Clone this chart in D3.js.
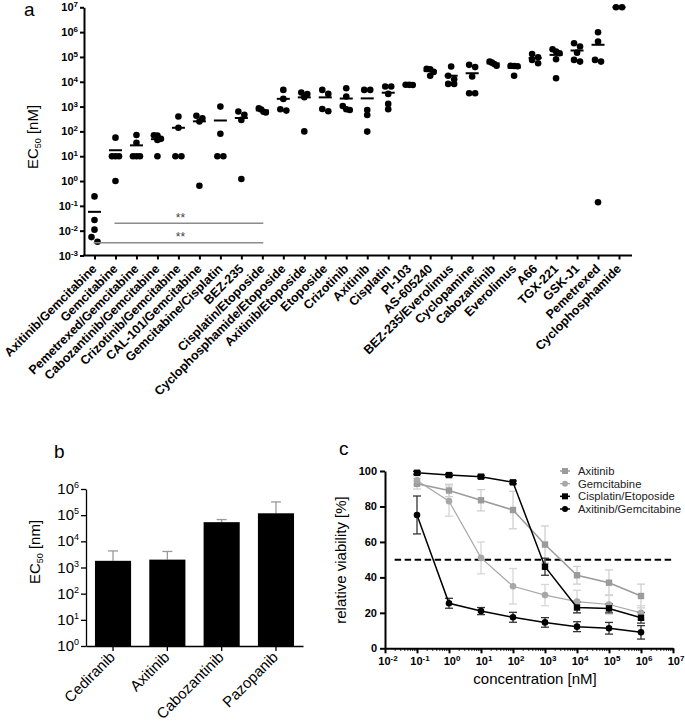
<!DOCTYPE html>
<html>
<head>
<meta charset="utf-8">
<script src="https://cdnjs.cloudflare.com/ajax/libs/d3/7.8.5/d3.min.js"></script>
<style>
body { margin: 0; background: #fff; }
svg { font-family: "Liberation Sans", Arial, sans-serif; }
</style>
</head>
<body>
<svg id="fig" width="685" height="723"></svg>
<script>
// ---------- panel a: EC50 [nM] per drug / combination, one dot per cell line
const drugsA = ["Axitinib/Gemcitabine", "Gemcitabine", "Pemetrexed/Gemcitabine", "Cabozantinib/Gemcitabine",
  "Crizotinib/Gemcitabine", "CAL-101/Gemcitabine", "Gemcitabine/Cisplatin", "BEZ-235", "Cisplatin/Etoposide",
  "Cyclophosphamide/Etoposide", "Axitinib/Etoposide", "Etoposide", "Crizotinib", "Axitinib", "Cisplatin",
  "PI-103", "AS-605240", "BEZ-235/Everolimus", "Cyclopamine", "Cabozantinib", "Everolimus", "A66",
  "TGX-221", "GSK-J1", "Pemetrexed", "Cyclophosphamide"];

const ec50A = [
  [0.24, 0.027, 0.011, 0.0055, 0.0036],
  [56, 10, 10, 10, 1],
  [72, 35, 10, 10, 10],
  [70, 68, 50, 45, 10],
  [400, 140, 10, 10],
  [425, 340, 250, 0.65],
  [1000, 80, 10, 10],
  [630, 465, 290, 1.2],
  [850, 760, 620, 580],
  [4700, 2040, 780, 690],
  [3700, 3200, 2400, 100],
  [4700, 3250, 800, 650],
  [5450, 2530, 1060, 780, 730],
  [4700, 4700, 730, 460, 98],
  [6400, 6400, 3240, 1280, 780],
  [7600, 7500, 7400],
  [33000, 32000, 25000, 17500],
  [41000, 17500, 12600, 8200, 8200],
  [48000, 39000, 16300, 3450, 3450],
  [65000, 59000, 52000, 44000],
  [44000, 43000, 42000, 17500],
  [132000, 97000, 75000, 56000],
  [204000, 165000, 141000, 81000, 13800],
  [355000, 262000, 149000, 76000, 65000],
  [990000, 415000, 76000, 65000, 0.14],
  [1e7, 1e7]
];

// significance bars (from, to, level in nM, label)
const sigFrom = ["Gemcitabine", "Axitinib/Gemcitabine"];
const sigTo = ["Cisplatin/Etoposide", "Cisplatin/Etoposide"];
const sigLevel = [0.02, 0.0033];
const sigLabel = ["**", "**"];

const expA = d3.range(-3, 8);

// ---------- panel b: EC50 of the VEGFR inhibitors
const drugsB = ["Cediranib", "Axitinib", "Cabozantinib", "Pazopanib"];
const ec50B = [1800, 2000, 54000, 118000];
const ec50BTop = [4300, 4100, 68000, 320000];
const expB = d3.range(0, 7);

// ---------- panel c: dose response
const conc = [0.1, 1, 10, 100, 1000, 1e4, 1e5, 1e6];
const axiMean = [92.8, 89, 83.5, 78, 58.5, 41.2, 37, 29.5];
const axiSd = [3, 3.5, 6, 10.6, 10.5, 5, 7.2, 6.7];
const gemMean = [94.7, 83, 51, 35, 30, 26.3, 24.7, 20];
const gemSd = [2.5, 8.5, 9, 10, 6, 6.4, 5.5, 4];
const cisEtoMean = [99, 97.7, 96.8, 93.6, 46, 23, 22.5, 17.2];
const cisEtoSd = [0.8, 0.8, 0.8, 0.8, 4.8, 3, 2.5, 3];
const axiGemMean = [75.2, 25.4, 21, 17.5, 14.6, 12.2, 11.3, 9];
const axiGemSd = [10.7, 2.8, 2, 2.8, 2.7, 2.8, 3.3, 3.8];
const seriesNames = ["Axitinib", "Gemcitabine", "Cisplatin/Etoposide", "Axitinib/Gemcitabine"];
const halfLine = 50;
const yTicksC = [0, 20, 40, 60, 80, 100];
const expC = d3.range(-2, 8);

const svg = d3.select("#fig");

// "10" with superscript exponent
function powText(sel, e, supSize, lift) {
  sel.append("tspan").text("10");
  sel.append("tspan").attr("dy", -lift).attr("font-size", supSize).text(e);
}

function panelLetter(x, y, t) {
  svg.append("text").attr("x", x).attr("y", y).attr("font-size", 19).text(t);
}

// ======================= panel a
const yA = d3.scaleLog().domain([1e-3, 1e7]).range([255.5, 7.3]);
const xA = d3.scalePoint().domain(drugsA).range([84, 629.5]).padding(0.5);
const gA = svg.append("g");

panelLetter(24, 16, "a");

gA.append("g")
  .attr("transform", "translate(84,0)")
  .call(d3.axisLeft(yA).tickValues(expA.map(e => Math.pow(10, e))).tickFormat("").tickSize(4).tickSizeOuter(0))
  .call(g => g.selectAll("path,line").attr("stroke", "#000").attr("stroke-width", 2));

gA.append("g")
  .attr("transform", "translate(0,255.5)")
  .call(d3.axisBottom(xA).tickFormat("").tickSize(4).tickSizeOuter(0))
  .call(g => g.select(".domain").remove())
  .call(g => g.selectAll("line").attr("stroke", "#000").attr("stroke-width", 2));

gA.append("line").attr("x1", 83).attr("x2", 632).attr("y1", 255.5).attr("y2", 255.5)
  .attr("stroke", "#000").attr("stroke-width", 2);

expA.forEach(e => {
  const t = gA.append("text").attr("x", 78).attr("y", yA(Math.pow(10, e)) + 4)
    .attr("text-anchor", "end").attr("font-size", 11).attr("font-weight", "bold");
  powText(t, e, 8, 4);
});

drugsA.forEach(d => {
  gA.append("text")
    .attr("transform", `translate(${xA(d) + 3},${255.5 + 14}) rotate(-45)`)
    .attr("text-anchor", "end").attr("font-size", 12.5).attr("font-weight", "bold")
    .text(d);
});

gA.append("text")
  .attr("transform", "translate(38,137) rotate(-90)")
  .attr("text-anchor", "middle").attr("font-size", 15)
  .call(t => {
    t.append("tspan").text("EC");
    t.append("tspan").attr("font-size", 9).attr("dy", 3).text("50");
    t.append("tspan").attr("dy", -3).text(" [nM]");
  });

// dots: values of nearly equal height sit side by side in a centred row
function swarm(vals, y) {
  const pts = vals.map(v => ({ v, y: y(v) })).sort((a, b) => a.y - b.y);
  const rows = [];
  pts.forEach(p => {
    const r = rows[rows.length - 1];
    if (r && p.y - r[0].y < 4.6) r.push(p); else rows.push([p]);
  });
  rows.forEach(r => {
    const n = r.length;
    const s = n > 1 ? Math.min(6, 7 / (n - 1)) : 0;
    r.forEach((p, i) => { p.dx = (i - (n - 1) / 2) * s; });
  });
  return pts;
}

drugsA.forEach((d, i) => {
  const pts = swarm(ec50A[i], yA);
  gA.selectAll(null).data(pts).enter().append("circle")
    .attr("cx", p => xA(d) + p.dx).attr("cy", p => p.y).attr("r", 3.3).attr("fill", "#000");
  const m = d3.mean(ec50A[i]);
  gA.append("line").attr("x1", xA(d) - 6.5).attr("x2", xA(d) + 6.5)
    .attr("y1", yA(m)).attr("y2", yA(m)).attr("stroke", "#000").attr("stroke-width", 2);
});

sigLevel.forEach((lv, i) => {
  gA.append("line").attr("x1", xA(sigFrom[i]) - 1).attr("x2", xA(sigTo[i]) + 1)
    .attr("y1", yA(lv)).attr("y2", yA(lv)).attr("stroke", "#8c8c8c").attr("stroke-width", 1.5);
  gA.append("text").attr("x", (xA(drugsA[0]) + xA(sigTo[i])) / 2 + 2).attr("y", yA(lv) - 1.5)
    .attr("text-anchor", "middle").attr("font-size", 12).attr("fill", "#444").text(sigLabel[i]);
});

// ======================= panel b
const yB = d3.scaleLog().domain([1, 1e6]).range([646, 489]);
const xB = d3.scaleBand().domain(drugsB).range([86, 303]).paddingInner(0.335).paddingOuter(0.165);
const gB = svg.append("g");

panelLetter(54, 458, "b");

gB.selectAll(null).data(drugsB).enter().append("line")
  .attr("x1", d => xB(d) + xB.bandwidth() / 2).attr("x2", d => xB(d) + xB.bandwidth() / 2)
  .attr("y1", (d, i) => yB(ec50B[i])).attr("y2", (d, i) => yB(ec50BTop[i]))
  .attr("stroke", "#9a9a9a").attr("stroke-width", 1.3);
gB.selectAll(null).data(drugsB).enter().append("line")
  .attr("x1", d => xB(d) + xB.bandwidth() / 2 - 5).attr("x2", d => xB(d) + xB.bandwidth() / 2 + 5)
  .attr("y1", (d, i) => yB(ec50BTop[i])).attr("y2", (d, i) => yB(ec50BTop[i]))
  .attr("stroke", "#9a9a9a").attr("stroke-width", 1.3);

gB.selectAll(null).data(drugsB).enter().append("rect")
  .attr("x", d => xB(d)).attr("width", xB.bandwidth())
  .attr("y", (d, i) => yB(ec50B[i])).attr("height", (d, i) => yB(1) - yB(ec50B[i]))
  .attr("fill", "#000");

gB.append("g")
  .attr("transform", "translate(86,0)")
  .call(d3.axisLeft(yB).tickValues(expB.map(e => Math.pow(10, e))).tickFormat("").tickSize(5).tickSizeOuter(0))
  .call(g => g.selectAll("path,line").attr("stroke", "#000").attr("stroke-width", 1.3));
gB.append("g")
  .attr("transform", "translate(0,646)")
  .call(d3.axisBottom(xB).tickFormat("").tickSize(5).tickSizeOuter(0))
  .call(g => g.selectAll("path,line").attr("stroke", "#000").attr("stroke-width", 1.3));

expB.forEach(e => {
  const t = gB.append("text").attr("x", 79).attr("y", yB(Math.pow(10, e)) + 5)
    .attr("text-anchor", "end").attr("font-size", 15);
  powText(t, e, 9, 6);
});

drugsB.forEach(d => {
  gB.append("text")
    .attr("transform", `translate(${xB(d) + xB.bandwidth() / 2 + 3},${646 + 12}) rotate(-45)`)
    .attr("text-anchor", "end").attr("font-size", 15).text(d);
});

gB.append("text")
  .attr("transform", "translate(40,552) rotate(-90)")
  .attr("text-anchor", "middle").attr("font-size", 15)
  .call(t => {
    t.append("tspan").text("EC");
    t.append("tspan").attr("font-size", 9).attr("dy", 3).text("50");
    t.append("tspan").attr("dy", -3).text(" [nm]");
  });

// ======================= panel c
const xC = d3.scaleLog().domain([1e-2, 1e7]).range([385, 673]);
const yC = d3.scaleLinear().domain([0, 100]).range([648.3, 471]);
const gC = svg.append("g");

panelLetter(339, 455, "c");

const means = [axiMean, gemMean, cisEtoMean, axiGemMean];
const sds = [axiSd, gemSd, cisEtoSd, axiGemSd];
const lineCol = ["#9b9b9b", "#a8a8a8", "#000", "#000"];
const errCol = ["#cfcfcf", "#d6d6d6", "#333", "#333"];
const lineW = [1.5, 1.2, 1.5, 1.5];
const isSquare = [true, false, true, false];

// dashed 50 % line
gC.append("line").attr("x1", xC(0.02)).attr("x2", xC(1e7))
  .attr("y1", yC(halfLine)).attr("y2", yC(halfLine))
  .attr("stroke", "#000").attr("stroke-width", 2).attr("stroke-dasharray", "6.5,3.5");

const lineGen = d3.line().x(d => xC(d[0])).y(d => yC(d[1]));

means.forEach((m, s) => {
  const pts = conc.map((c, i) => [c, m[i], sds[s][i]]);
  pts.forEach(p => {
    const x = xC(p[0]);
    gC.append("line").attr("x1", x).attr("x2", x).attr("y1", yC(p[1] - p[2])).attr("y2", yC(p[1] + p[2]))
      .attr("stroke", errCol[s]).attr("stroke-width", 1.3);
    [p[1] - p[2], p[1] + p[2]].forEach(v => {
      gC.append("line").attr("x1", x - 4).attr("x2", x + 4).attr("y1", yC(v)).attr("y2", yC(v))
        .attr("stroke", errCol[s]).attr("stroke-width", 1.3);
    });
  });
});

means.forEach((m, s) => {
  const pts = conc.map((c, i) => [c, m[i]]);
  gC.append("path").datum(pts).attr("d", lineGen)
    .attr("fill", "none").attr("stroke", lineCol[s]).attr("stroke-width", lineW[s]);
  pts.forEach(p => {
    if (isSquare[s]) {
      gC.append("rect").attr("x", xC(p[0]) - 3.2).attr("y", yC(p[1]) - 3.2)
        .attr("width", 6.4).attr("height", 6.4).attr("fill", lineCol[s]);
    } else {
      gC.append("circle").attr("cx", xC(p[0])).attr("cy", yC(p[1])).attr("r", 3.3).attr("fill", lineCol[s]);
    }
  });
});

// axes
gC.append("g")
  .attr("transform", "translate(385,0)")
  .call(d3.axisLeft(yC).tickValues(yTicksC).tickFormat("").tickSize(5).tickSizeOuter(0))
  .call(g => g.selectAll("path,line").attr("stroke", "#000").attr("stroke-width", 2));

const minor = [];
expC.slice(0, -1).forEach(e => d3.range(2, 10).forEach(k => minor.push(k * Math.pow(10, e))));
gC.append("g")
  .attr("transform", "translate(0,648.3)")
  .call(d3.axisBottom(xC).tickValues(minor).tickFormat("").tickSize(2.5).tickSizeOuter(0))
  .call(g => g.select(".domain").remove())
  .call(g => g.selectAll("line").attr("stroke", "#000").attr("stroke-width", 1));
gC.append("g")
  .attr("transform", "translate(0,648.3)")
  .call(d3.axisBottom(xC).tickValues(expC.map(e => Math.pow(10, e))).tickFormat("").tickSize(5).tickSizeOuter(0))
  .call(g => g.selectAll("path,line").attr("stroke", "#000").attr("stroke-width", 2));

yTicksC.forEach(v => {
  gC.append("text").attr("x", 377).attr("y", yC(v) + 4).attr("text-anchor", "end")
    .attr("font-size", 11).attr("font-weight", "bold").text(v);
});
expC.forEach(e => {
  const t = gC.append("text").attr("x", xC(Math.pow(10, e)) + 3).attr("y", 665)
    .attr("text-anchor", "middle").attr("font-size", 11).attr("font-weight", "bold");
  powText(t, e, 8, 4);
});

gC.append("text")
  .attr("transform", "translate(346,560) rotate(-90)")
  .attr("text-anchor", "middle").attr("font-size", 15).text("relative viability [%]");
gC.append("text").attr("x", 535).attr("y", 684).attr("text-anchor", "middle")
  .attr("font-size", 15).text("concentration [nM]");

// legend
const legY = d3.scalePoint().domain(seriesNames).range([471, 509]);
seriesNames.forEach((n, s) => {
  const y = legY(n);
  gC.append("line").attr("x1", 560).attr("x2", 570).attr("y1", y).attr("y2", y)
    .attr("stroke", lineCol[s]).attr("stroke-width", lineW[s]);
  if (isSquare[s]) {
    gC.append("rect").attr("x", 562).attr("y", y - 3).attr("width", 6).attr("height", 6).attr("fill", lineCol[s]);
  } else {
    gC.append("circle").attr("cx", 565).attr("cy", y).attr("r", 3).attr("fill", lineCol[s]);
  }
  gC.append("text").attr("x", 578).attr("y", y + 4).attr("font-size", 11.3).attr("fill", "#222").text(n);
});
</script>
</body>
</html>
